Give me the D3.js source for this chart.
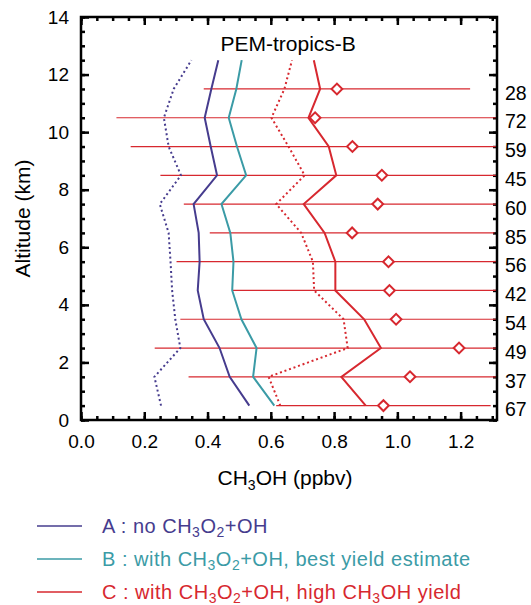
<!DOCTYPE html>
<meta charset="utf-8">
<style>
body { margin: 0; background: #fff; font-family: "Liberation Sans", Arial, sans-serif; }
.tick line { stroke: #000; stroke-width: 2.5; }
.tick text { font: 19px "Liberation Sans", Arial, sans-serif; fill: #000; }
</style>
<body>
<svg width="531" height="605"></svg>
<script src="https://d3js.org/d3.v7.min.js"></script>
<script>

// model altitudes (km) and the five model profiles (ppbv)
var modelAlt = [0.5, 1.5, 2.5, 3.5, 4.5, 5.5, 6.5, 7.5, 8.5, 9.5, 10.5, 11.5, 12.5];
var modelA    = [0.532, 0.470, 0.438, 0.388, 0.369, 0.375, 0.372, 0.356, 0.430, 0.410, 0.391, 0.412, 0.434];
var modelAdot = [0.253, 0.232, 0.314, 0.298, 0.288, 0.283, 0.277, 0.249, 0.316, 0.277, 0.262, 0.293, 0.349];
var modelB    = [0.611, 0.544, 0.555, 0.507, 0.478, 0.482, 0.472, 0.444, 0.522, 0.493, 0.467, 0.491, 0.508];
var modelC    = [0.900, 0.823, 0.948, 0.895, 0.804, 0.804, 0.770, 0.704, 0.807, 0.783, 0.719, 0.756, 0.736];
var modelCdot = [0.630, 0.593, 0.843, 0.830, 0.737, 0.733, 0.696, 0.617, 0.707, 0.656, 0.602, 0.643, 0.667];

// observations: mean, standard deviation, number of points
var obsAlt  = [0.5, 1.5, 2.5, 3.5, 4.5, 5.5, 6.5, 7.5, 8.5, 9.5, 10.5, 11.5];
var obsMean = [0.956, 1.040, 1.195, 0.996, 0.975, 0.972, 0.857, 0.938, 0.951, 0.858, 0.740, 0.809];
var obsSd   = [0.339, 0.700, 0.962, 0.682, 0.496, 0.670, 0.450, 0.613, 0.700, 0.701, 0.628, 0.421];
var obsN    = [67, 37, 49, 54, 42, 56, 85, 60, 45, 59, 72, 28];

var xMajor = [0, 0.2, 0.4, 0.6, 0.8, 1.0, 1.2];
var yMajor = [0, 2, 4, 6, 8, 10, 12, 14];

var purple = "#463c8e", teal = "#3b9ba6", red = "#d7282f";

var svg = d3.select("svg"),
    margin = {top: 17, right: 34, bottom: 185, left: 81},
    width = +svg.attr("width") - margin.left - margin.right,
    height = +svg.attr("height") - margin.top - margin.bottom,
    g = svg.append("g").attr("transform", "translate(" + margin.left + "," + margin.top + ")");

var x = d3.scaleLinear().domain([0, 1.315]).range([0, width]);
var y = d3.scaleLinear().domain([0, 14]).range([height, 0]);

g.append("clipPath").attr("id", "plotclip")
    .append("rect").attr("width", width).attr("height", height);

var xMinor = d3.range(0, 1.3001, 0.05);
var yMinor = d3.range(0, 14.001, 0.5);

// minor ticks on all four sides
g.append("g").attr("transform", "translate(0," + height + ")")
    .call(d3.axisBottom(x).tickValues(xMinor).tickSize(-4).tickFormat(""));
g.append("g")
    .call(d3.axisTop(x).tickValues(xMinor).tickSize(-4).tickFormat(""));
g.append("g")
    .call(d3.axisLeft(y).tickValues(yMinor).tickSize(-4).tickFormat(""));
g.append("g").attr("transform", "translate(" + width + ",0)")
    .call(d3.axisRight(y).tickValues(yMinor).tickSize(-4).tickFormat(""));

// major ticks
g.append("g").attr("transform", "translate(0," + height + ")")
    .call(d3.axisBottom(x).tickValues(xMajor).tickSize(-8).tickPadding(15).tickFormat(d3.format(".1f")));
g.append("g")
    .call(d3.axisTop(x).tickValues(xMajor).tickSize(-8).tickFormat(""));
g.append("g")
    .call(d3.axisLeft(y).tickValues(yMajor).tickSize(-8).tickPadding(12).tickFormat(d3.format("d")));
g.append("g").attr("transform", "translate(" + width + ",0)")
    .call(d3.axisRight(y).tickValues(yMajor).tickSize(-8).tickFormat(""));

g.selectAll(".domain").remove();

// observation bars and diamonds
var obs = obsAlt.map(function(a, i) {
    return {alt: a, mean: obsMean[i], sd: obsSd[i], n: obsN[i]};
});

var obsG = g.append("g").attr("clip-path", "url(#plotclip)");
obsG.selectAll("line.obs")
    .data(obs)
    .enter().append("line")
    .attr("class", "obs")
    .attr("x1", function(d) { return x(d.mean - d.sd); })
    .attr("x2", function(d) { return x(d.mean + d.sd); })
    .attr("y1", function(d) { return y(d.alt); })
    .attr("y2", function(d) { return y(d.alt); })
    .attr("stroke", red)
    .attr("stroke-width", 1.2);

// model profiles
var line = d3.line()
    .x(function(d) { return x(d[0]); })
    .y(function(d) { return y(d[1]); });

var profiles = [
    {v: modelAdot, color: purple, dot: true},
    {v: modelA, color: purple, dot: false},
    {v: modelB, color: teal, dot: false},
    {v: modelCdot, color: red, dot: true},
    {v: modelC, color: red, dot: false}
];

profiles.forEach(function(p) {
    g.append("path")
        .datum(p.v.map(function(v, i) { return [v, modelAlt[i]]; }))
        .attr("fill", "none")
        .attr("stroke", p.color)
        .attr("stroke-width", 2)
        .attr("stroke-dasharray", p.dot ? "2,2.8" : null)
        .attr("d", line);
});

g.selectAll("path.diamond")
    .data(obs)
    .enter().append("path")
    .attr("class", "diamond")
    .attr("d", d3.symbol(d3.symbolSquare, 58))
    .attr("transform", function(d) { return "translate(" + x(d.mean) + "," + y(d.alt) + ") rotate(45)"; })
    .attr("fill", "#fff")
    .attr("stroke", red)
    .attr("stroke-width", 2);

// number of points at the right side
g.selectAll("text.count")
    .data(obs)
    .enter().append("text")
    .attr("class", "count")
    .attr("x", width + 8)
    .attr("y", function(d) { return y(d.alt); })
    .attr("dy", "0.55em")
    .style("font-size", "19.5px")
    .text(function(d) { return d.n; });

// plot frame
g.append("rect")
    .attr("width", width).attr("height", height)
    .attr("fill", "none").attr("stroke", "#000").attr("stroke-width", 2.5);

g.append("text")
    .attr("x", x(0.655)).attr("y", 34)
    .attr("text-anchor", "middle")
    .style("font-size", "21px")
    .text("PEM-tropics-B");

// axis titles
var xt = svg.append("text")
    .attr("x", 285).attr("y", 485)
    .attr("text-anchor", "middle")
    .style("font-size", "21px");
xt.append("tspan").text("CH");
xt.append("tspan").attr("dy", 5).style("font-size", "14px").text("3");
xt.append("tspan").attr("dy", -5).text("OH (ppbv)");

svg.append("text")
    .attr("transform", "translate(30," + (margin.top + height / 2) + ") rotate(-90)")
    .attr("text-anchor", "middle")
    .style("font-size", "21px")
    .text("Altitude (km)");

// legend
var legend = [
    {color: purple, parts: ["A : no CH", "3", "O", "2", "+OH"]},
    {color: teal, parts: ["B : with CH", "3", "O", "2", "+OH, best yield estimate"]},
    {color: red, parts: ["C : with CH", "3", "O", "2", "+OH, high CH", "3", "OH yield"]}
];

legend.forEach(function(l, i) {
    var ly = 526 + i * 33;
    svg.append("line")
        .attr("x1", 37).attr("x2", 82)
        .attr("y1", ly).attr("y2", ly)
        .attr("stroke", l.color).attr("stroke-width", 1.5);
    var t = svg.append("text")
        .attr("x", 102).attr("y", ly + 7)
        .attr("fill", l.color)
        .style("font-size", "20px")
        .style("letter-spacing", "0.5px");
    l.parts.forEach(function(s, j) {
        var sub = j % 2 === 1;
        t.append("tspan")
            .attr("dy", j === 0 ? 0 : (sub ? 4 : -4))
            .style("font-size", sub ? "14px" : "20px")
            .text(s);
    });
});

</script>
